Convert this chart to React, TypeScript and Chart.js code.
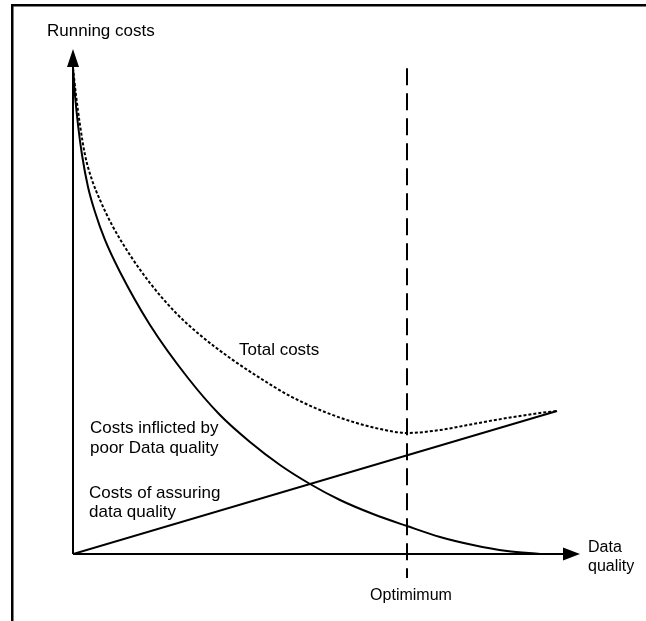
import React, { useEffect, useRef } from "react";
import { Chart, registerables } from "chart.js";

Chart.register(...registerables);

// Data quality (x) and running cost (y) in abstract units 0..100
const poorQualityX = [0, 0.39, 0.99, 1.78, 2.96, 4.34, 6.31, 9.27, 15.19, 22.68, 28.99, 34.91, 40.83, 46.75, 52.66, 59.17, 65.88, 72.39, 78.9, 85.6, 92.11];
const poorQualityY = [96.24, 90.89, 84.95, 79.01, 72.67, 67.72, 62.18, 55.84, 45.35, 34.85, 27.52, 22.18, 17.62, 13.86, 10.69, 7.92, 5.54, 3.37, 1.78, 0.59, 0];

const assuringX = [0, 95.46];
const assuringY = [0, 28.32];

const totalX = [0, 0.59, 1.38, 2.37, 3.75, 5.33, 7.69, 11.24, 15.19, 20.12, 25.05, 30.97, 36.88, 42.8, 48.72, 54.64, 60.55, 65.88, 72.39, 78.9, 85.6, 92.11, 95.46];
const totalY = [96.24, 90.89, 84.95, 79.01, 74.06, 70.1, 65.15, 59.21, 53.66, 47.92, 43.37, 38.81, 34.85, 31.29, 28.51, 26.34, 24.75, 23.96, 24.55, 25.74, 26.93, 27.92, 28.32];

const optimumX = [65.88, 65.88];
const optimumY = [96.2, -4.75];

const axisMaxX = 100;
const axisMaxY = 100;

const labelTexts = {
  yAxis: "Running costs",
  xAxis1: "Data",
  xAxis2: "quality",
  total: "Total costs",
  poor1: "Costs inflicted by",
  poor2: "poor Data quality",
  assure1: "Costs of assuring",
  assure2: "data quality",
  optimum: "Optimimum",
};

const zip = (xs: number[], ys: number[]) => xs.map((x, i) => ({ x, y: ys[i] }));

const decorPlugin = {
  id: "decor",
  afterDatasetsDraw(chart: any) {
    const ctx = chart.ctx;
    const xs = chart.scales.x;
    const ys = chart.scales.y;
    const ox = xs.getPixelForValue(0);
    const oy = ys.getPixelForValue(0);
    const tipY = ys.getPixelForValue(axisMaxY);
    const tipX = xs.getPixelForValue(axisMaxX);
    ctx.save();
    // frame (left & top)
    ctx.fillStyle = "#000";
    ctx.fillRect(11, 4, chart.width - 11, 2.5);
    ctx.fillRect(11, 4, 2.5, chart.height - 4);

    // axes
    ctx.strokeStyle = "#000";
    ctx.lineWidth = 2;
    ctx.setLineDash([]);
    ctx.beginPath();
    ctx.moveTo(ox, oy);
    ctx.lineTo(ox, tipY + 14);
    ctx.moveTo(ox, oy);
    ctx.lineTo(tipX - 14, oy);
    ctx.stroke();
    // arrowheads
    ctx.beginPath();
    ctx.moveTo(ox, tipY);
    ctx.lineTo(ox - 6, tipY + 18);
    ctx.lineTo(ox + 6, tipY + 18);
    ctx.closePath();
    ctx.fill();
    ctx.beginPath();
    ctx.moveTo(tipX, oy);
    ctx.lineTo(tipX - 17, oy - 6.5);
    ctx.lineTo(tipX - 17, oy + 6.5);
    ctx.closePath();
    ctx.fill();

    // labels
    ctx.fillStyle = "#000";
    ctx.textBaseline = "alphabetic";
    ctx.textAlign = "left";
    ctx.font = "17px 'Liberation Sans', Arial, sans-serif";
    ctx.fillText(labelTexts.yAxis, 47, 36);
    ctx.fillText(labelTexts.total, 239, 355);
    ctx.fillText(labelTexts.poor1, 90, 433);
    ctx.fillText(labelTexts.poor2, 90, 453);
    ctx.fillText(labelTexts.assure1, 89, 498);
    ctx.fillText(labelTexts.assure2, 89, 517);
    ctx.font = "16px 'Liberation Sans', Arial, sans-serif";
    ctx.fillText(labelTexts.xAxis1, 588, 552);
    ctx.fillText(labelTexts.xAxis2, 588, 571);
    ctx.textAlign = "center";
    ctx.fillText(labelTexts.optimum, xs.getPixelForValue(optimumX[0]) + 4, 600);
    ctx.restore();
  },
};

export default function App() {
  const ref = useRef<HTMLCanvasElement | null>(null);
  useEffect(() => {
    if (!ref.current) return;
    const chart = new Chart(ref.current, {
      type: "scatter",
      data: {
        datasets: [
          {
            label: "Costs inflicted by poor Data quality",
            data: zip(poorQualityX, poorQualityY),
            showLine: true,
            borderColor: "#000",
            borderWidth: 2,
            pointRadius: 0,
            cubicInterpolationMode: "monotone",
          },
          {
            label: "Costs of assuring data quality",
            data: zip(assuringX, assuringY),
            showLine: true,
            borderColor: "#000",
            borderWidth: 2,
            pointRadius: 0,
          },
          {
            label: "Total costs",
            data: zip(totalX, totalY),
            showLine: true,
            borderColor: "#000",
            borderWidth: 2,
            borderDash: [3, 2],
            pointRadius: 0,
            cubicInterpolationMode: "monotone",
          },
          {
            label: "Optimimum",
            data: zip(optimumX, optimumY),
            showLine: true,
            borderColor: "#000",
            borderWidth: 2,
            borderDash: [17, 8],
            pointRadius: 0,
          },
        ],
      },
      options: {
        animation: false,
        responsive: false,
        events: [],
        layout: { padding: { left: 73, right: 66, top: 49, bottom: 16.5 } },
        plugins: { legend: { display: false }, tooltip: { enabled: false }, title: { display: false } },
        scales: {
          x: { type: "linear", min: 0, max: axisMaxX, display: false },
          y: { type: "linear", min: -10, max: axisMaxY, display: false },
        },
      },
      plugins: [decorPlugin],
    } as any);
    return () => chart.destroy();
  }, []);
  return (
    <div style={{ position: "absolute", left: 0, top: 0, width: 646, height: 621, background: "#fff" }}>
      <canvas ref={ref} width={646} height={621} style={{ display: "block" }} />
    </div>
  );
}
